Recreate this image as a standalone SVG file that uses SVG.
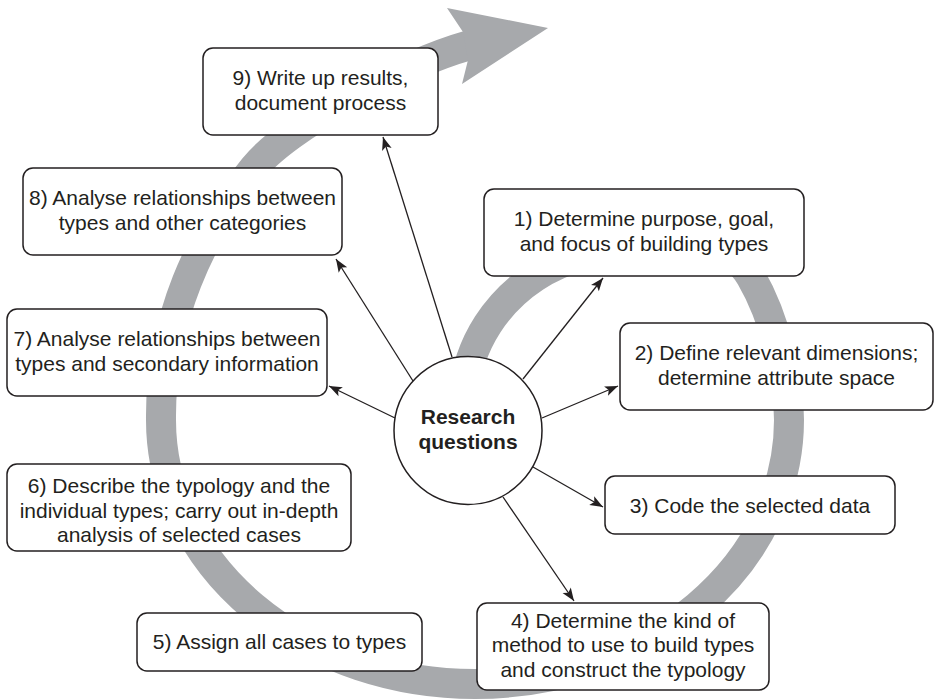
<svg xmlns="http://www.w3.org/2000/svg" width="937" height="699" viewBox="0 0 937 699">
  <defs>
    <style>
      .box{fill:#fff;stroke:#231f20;stroke-width:1.5}
      .lbl{font-family:"Liberation Sans",Arial,Helvetica,sans-serif;font-size:21px;fill:#231f20;text-anchor:middle}
      .hub{font-weight:bold}
      .link{stroke:#231f20;stroke-width:1.3;fill:none;marker-end:url(#arr)}
      .band{fill:none;stroke:#a7a9ac;stroke-width:30}
    </style>
    <marker id="arr" markerUnits="userSpaceOnUse" markerWidth="16" markerHeight="12" viewBox="-14 -6 16 12" refX="0" refY="0" orient="auto">
      <path d="M0,0 L-13,-5 L-10,0 L-13,5 Z" fill="#231f20"/>
    </marker>
  </defs>

  <!-- grey spiral band running clockwise round the steps and leaving as a large arrow -->
  <g id="cycle">
    <path class="band" d="M463,398 C468,340 500,300 535,277 C587,243 716,216 751,277 C776,320 789,380 789,420 A314,264 0 0 1 161,420 C160,320 200,235 254,168 C285,129 399,65 470,45"/>
    <polygon points="548,28 447,8 463,32 468,60 462,84" fill="#a7a9ac"/>
  </g>

  <!-- connectors from the hub to each step -->
  <g id="connectors">
    <line class="link" x1="523" y1="379" x2="603" y2="278"/>
    <line class="link" x1="542" y1="418" x2="618" y2="386"/>
    <line class="link" x1="533" y1="467" x2="603" y2="507"/>
    <line class="link" x1="503" y1="497" x2="574" y2="601"/>
    <line class="link" x1="413" y1="381" x2="336" y2="259"/>
    <line class="link" x1="395" y1="418" x2="329" y2="386"/>
    <line class="link" x1="452" y1="357" x2="383" y2="137"/>
  </g>

  <g id="hub">
    <circle class="box" cx="468" cy="430.5" r="74"/>
    <text class="lbl hub" x="468" y="424">Research</text>
    <text class="lbl hub" x="468" y="449">questions</text>
  </g>

  <g id="step1">
    <rect class="box" x="484" y="189" width="320" height="87" rx="10"/>
    <text class="lbl" x="644" y="226">1) Determine purpose, goal,</text>
    <text class="lbl" x="644" y="251">and focus of building types</text>
  </g>

  <g id="step2">
    <rect class="box" x="620" y="323" width="313" height="87" rx="10"/>
    <text class="lbl" x="776.5" y="360">2) Define relevant dimensions;</text>
    <text class="lbl" x="776.5" y="385">determine attribute space</text>
  </g>

  <g id="step3">
    <rect class="box" x="605" y="476" width="290" height="58" rx="10"/>
    <text class="lbl" x="750" y="513">3) Code the selected data</text>
  </g>

  <g id="step4">
    <rect class="box" x="477" y="603" width="292" height="87" rx="10"/>
    <text class="lbl" x="623" y="627.5">4) Determine the kind of</text>
    <text class="lbl" x="623" y="652">method to use to build types</text>
    <text class="lbl" x="623" y="676.5">and construct the typology</text>
  </g>

  <g id="step5">
    <rect class="box" x="137" y="613" width="285" height="58" rx="10"/>
    <text class="lbl" x="279.5" y="649">5) Assign all cases to types</text>
  </g>

  <g id="step6">
    <rect class="box" x="7" y="464" width="344" height="87" rx="10"/>
    <text class="lbl" x="179" y="493">6) Describe the typology and the</text>
    <text class="lbl" x="179" y="517.5">individual types; carry out in-depth</text>
    <text class="lbl" x="179" y="542">analysis of selected cases</text>
  </g>

  <g id="step7">
    <rect class="box" x="7" y="309" width="320" height="87" rx="10"/>
    <text class="lbl" x="167" y="346">7) Analyse relationships between</text>
    <text class="lbl" x="167" y="371">types and secondary information</text>
  </g>

  <g id="step8">
    <rect class="box" x="23" y="168" width="319" height="87" rx="10"/>
    <text class="lbl" x="182.5" y="205">8) Analyse relationships between</text>
    <text class="lbl" x="182.5" y="230">types and other categories</text>
  </g>

  <g id="step9">
    <rect class="box" x="203" y="48" width="235" height="87" rx="10"/>
    <text class="lbl" x="320.5" y="85">9) Write up results,</text>
    <text class="lbl" x="320.5" y="110">document process</text>
  </g>
</svg>
